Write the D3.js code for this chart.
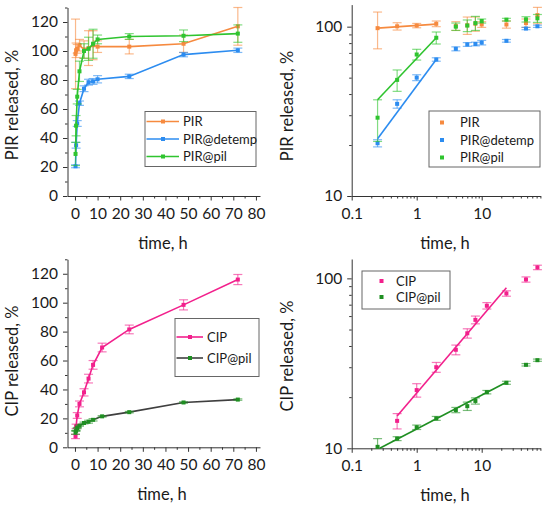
<!DOCTYPE html>
<html>
<head>
<meta charset="utf-8">
<script src="https://cdn.jsdelivr.net/npm/d3@7"></script>
<style>
  body { margin: 0; background: #fff; }
  svg { font-family: Lato, 'Open Sans', sans-serif; }
</style>
</head>
<body>
<script>
// sampling times, h
var timesPIR = [0.25, 0.5, 1, 2, 4, 6, 8, 10, 24, 48, 72]
var timesCIP = [0.25, 0.5, 1, 2, 4, 6, 8, 12, 24, 48, 72]

// PIR release, %
var pirFree    = [98, 100.5, 101.5, 104, 101, 102, 104, 103, 103, 105, 117]
var pirFreeErr = [24, 5, 3, 4, 6, 12, 10, 4, 5, 6, 13]
var pirDet     = [20.5, 35, 50, 64, 74, 78.5, 79, 80.5, 82.5, 97.5, 100.5]
var pirDetErr  = [1, 2, 2, 1.5, 2, 2, 2, 2.5, 1.5, 1.5, 1.5]
var pirPil     = [29, 48.5, 68.5, 86, 100, 101.5, 105, 108, 110, 110.5, 112]
var pirPilErr  = [8, 7, 5, 7, 5, 8, 10, 3, 2, 4, 6]

// CIP release, %
var cipFree    = [7.5, 14.5, 22, 30, 38, 47.5, 57, 69, 81.5, 98.5, 116]
var cipFreeErr = [1.5, 1.5, 2, 2, 2.5, 3, 3, 3, 3, 3.5, 3.5]
var cipPil     = [10.2, 11.4, 13.3, 15, 16.8, 17.7, 19, 21.4, 24.3, 31, 33]
var cipPilErr  = [1.2, 0.3, 0.4, 0.4, 0.6, 1, 0.8, 0.5, 0.5, 0.5, 0.5]

// power-law fit segments on the log-log panels, [t, %]
var fitPirFree = [[0.25, 98], [2, 103.5]]
var fitPirDet  = [[0.25, 21.8], [2, 64]]
var fitPirPil  = [[0.25, 37], [2, 86]]
var fitCipFree = [[0.5, 15.5], [24, 88]]
var fitCipPil  = [[0.27, 10], [24, 24.5]]

// tick labels
var xTicksLin = [0, 10, 20, 30, 40, 50, 60, 70, 80]
var xMinorLin = [5, 15, 25, 35, 45, 55, 65, 75]
var yTicksLin = [0, 20, 40, 60, 80, 100, 120]
var yMinorLin = [10, 30, 50, 70, 90, 110, 130]
var xTicksLog = [0.1, 1, 10]
var yTicksLog = [10, 100]

var ORANGE = '#f68a3f', BLUE = '#2c8cf0', GREEN = '#2fc42f'
var PINK = '#f2208c', DKGREEN = '#1f8f22', GREY = '#3f3f3f'

var svg = d3.select('body').append('svg')
  .attr('width', 550).attr('height', 512)

function panel(o) {
  var g = svg.append('g')
  var x = o.x, y = o.y
  var y0 = y.range()[0], x0 = x.range()[0]
  var log = o.log

  // minor ticks
  var xMinor = log ? x.ticks().filter(d => xTicksLog.indexOf(d) < 0) : xMinorLin
  var yMinor = log ? y.ticks().filter(d => yTicksLog.indexOf(d) < 0) : yMinorLin
  g.append('g').attr('transform', `translate(0,${y0})`)
    .call(d3.axisBottom(x).tickValues(xMinor).tickSize(2.5).tickFormat(''))
    .call(a => a.select('.domain').remove())
  g.append('g').attr('transform', `translate(${x0},0)`)
    .call(d3.axisLeft(y).tickValues(yMinor).tickSize(2.5).tickFormat(''))
    .call(a => a.select('.domain').remove())

  // major ticks
  var fmt = d => d3.format('~g')(d)
  g.append('g').attr('transform', `translate(0,${y0})`)
    .call(d3.axisBottom(x).tickValues(log ? xTicksLog : xTicksLin)
      .tickSize(4.5).tickSizeOuter(0).tickPadding(7).tickFormat(fmt))
  g.append('g').attr('transform', `translate(${x0},0)`)
    .call(d3.axisLeft(y).tickValues(log ? yTicksLog : yTicksLin)
      .tickSize(4.5).tickSizeOuter(0).tickPadding(5).tickFormat(fmt))
  g.selectAll('.tick line, .domain').attr('stroke', '#333')
  g.selectAll('.tick text').attr('font-size', 15.5).attr('fill', '#1a1a1a')
    .attr('font-family', 'Lato, sans-serif')

  // axis titles
  g.append('text')
    .attr('transform', `translate(${o.ylabX},${o.ylabY}) rotate(-90)`)
    .attr('text-anchor', 'middle').attr('dy', '0.35em')
    .attr('font-size', 16.5).attr('fill', '#1a1a1a')
    .text(o.ylabel)
  g.append('text')
    .attr('x', o.xlabX).attr('y', o.xlabY)
    .attr('text-anchor', 'middle')
    .attr('font-size', 16.5).attr('fill', '#1a1a1a')
    .text('time, h')

  var lo = y.domain()[0]

  o.series.forEach(s => {
    var pts = s.t.map((t, i) => ({ t: t, v: s.v[i], e: s.e[i] }))
      .filter(d => d.v >= lo)

    // connecting line (linear panels only)
    if (!log) {
      g.append('path')
        .datum(pts)
        .attr('fill', 'none')
        .attr('stroke', s.line || s.color)
        .attr('stroke-width', 1.6)
        .attr('d', d3.line().x(d => x(d.t)).y(d => y(d.v)))
    }

    // error bars
    var eb = g.append('g')
      .attr('stroke', s.color).attr('stroke-opacity', 0.6).attr('stroke-width', 1.2)
    pts.forEach(d => {
      var top = y(d.v + d.e), bot = y(Math.max(d.v - d.e, lo))
      var cx = x(d.t)
      eb.append('line').attr('x1', cx).attr('x2', cx).attr('y1', top).attr('y2', bot)
      eb.append('line').attr('x1', cx - 4.5).attr('x2', cx + 4.5).attr('y1', top).attr('y2', top)
      if (d.v - d.e >= lo)
        eb.append('line').attr('x1', cx - 4.5).attr('x2', cx + 4.5).attr('y1', bot).attr('y2', bot)
    })

    // markers
    g.append('g').selectAll('rect')
      .data(pts).join('rect')
      .attr('x', d => x(d.t) - 2).attr('y', d => y(d.v) - 2)
      .attr('width', 4).attr('height', 4)
      .attr('fill', s.color)
  })

  // fit lines (log panels)
  ;(o.fits || []).forEach(f => {
    g.append('path')
      .datum(f.pts)
      .attr('fill', 'none')
      .attr('stroke', f.color)
      .attr('stroke-width', 1.6)
      .attr('d', d3.line().x(d => x(d[0])).y(d => y(d[1])))
  })

  // legend
  var L = o.legend
  var lg = g.append('g')
  lg.append('rect')
    .attr('x', L.x).attr('y', L.y).attr('width', L.w).attr('height', L.h)
    .attr('fill', '#fff').attr('stroke', '#666').attr('stroke-width', 1)
  o.series.forEach((s, i) => {
    var ly = L.y + L.first + i * L.step
    if (!log) {
      lg.append('line')
        .attr('x1', L.x + 1.5).attr('x2', L.x + L.lineW).attr('y1', ly).attr('y2', ly)
        .attr('stroke', s.line || s.color).attr('stroke-width', 1.6)
    }
    lg.append('rect')
      .attr('x', L.x + L.mark - 2).attr('y', ly - 2)
      .attr('width', 4).attr('height', 4).attr('fill', s.color)
    lg.append('text')
      .attr('x', L.x + L.text).attr('y', ly).attr('dy', '0.36em')
      .attr('font-size', 13).attr('fill', '#1a1a1a')
      .text(s.name)
  })
}

// scales
var xLinTop = d3.scaleLinear().domain([-3.3, 81.8]).range([67.5, 260])
var yLinTop = d3.scaleLinear().domain([0, 130]).range([196, 7.5])
var xLogTop = d3.scaleLog().domain([0.1, 80]).range([351.7, 540.4])
var yLogTop = d3.scaleLog().domain([10, 135]).range([196, 4.6])
var xLinBot = d3.scaleLinear().domain([-3.3, 81.8]).range([67.5, 260])
var yLinBot = d3.scaleLinear().domain([0, 130]).range([447.3, 259.3])
var xLogBot = d3.scaleLog().domain([0.1, 80]).range([351.7, 540.4])
var yLogBot = d3.scaleLog().domain([10, 130]).range([448.3, 259])

var pirSeries = [
  { name: 'PIR', t: timesPIR, v: pirFree, e: pirFreeErr, color: ORANGE },
  { name: 'PIR@detemp', t: timesPIR, v: pirDet, e: pirDetErr, color: BLUE },
  { name: 'PIR@pil', t: timesPIR, v: pirPil, e: pirPilErr, color: GREEN }
]
var cipSeries = [
  { name: 'CIP', t: timesCIP, v: cipFree, e: cipFreeErr, color: PINK },
  { name: 'CIP@pil', t: timesCIP, v: cipPil, e: cipPilErr, color: DKGREEN, line: GREY }
]

panel({
  x: xLinTop, y: yLinTop, log: false, series: pirSeries,
  ylabel: 'PIR released, %', ylabX: 12, ylabY: 105, xlabX: 163, xlabY: 249,
  legend: { x: 145, y: 111.5, w: 111, h: 55, first: 10, step: 17.5, lineW: 34, mark: 18, text: 38 }
})
panel({
  x: xLogTop, y: yLogTop, log: true, series: pirSeries,
  fits: [
    { pts: fitPirFree, color: ORANGE },
    { pts: fitPirDet, color: BLUE },
    { pts: fitPirPil, color: GREEN }
  ],
  ylabel: 'PIR released, %', ylabX: 287, ylabY: 106, xlabX: 445, xlabY: 249,
  legend: { x: 429, y: 111, w: 111, h: 56, first: 11.5, step: 17.5, mark: 13, text: 31 }
})
panel({
  x: xLinBot, y: yLinBot, log: false, series: cipSeries,
  ylabel: 'CIP released, %', ylabX: 12, ylabY: 361, xlabX: 162, xlabY: 500,
  legend: { x: 175, y: 318.5, w: 84, h: 58, first: 18.5, step: 21, lineW: 28, mark: 15, text: 32 }
})
panel({
  x: xLogBot, y: yLogBot, log: true, series: cipSeries,
  fits: [
    { pts: fitCipFree, color: PINK },
    { pts: fitCipPil, color: DKGREEN }
  ],
  ylabel: 'CIP released, %', ylabX: 287, ylabY: 356, xlabX: 445, xlabY: 501,
  legend: { x: 362, y: 271, w: 88, h: 38, first: 10, step: 16, mark: 19.5, text: 34 }
})
</script>
</body>
</html>
